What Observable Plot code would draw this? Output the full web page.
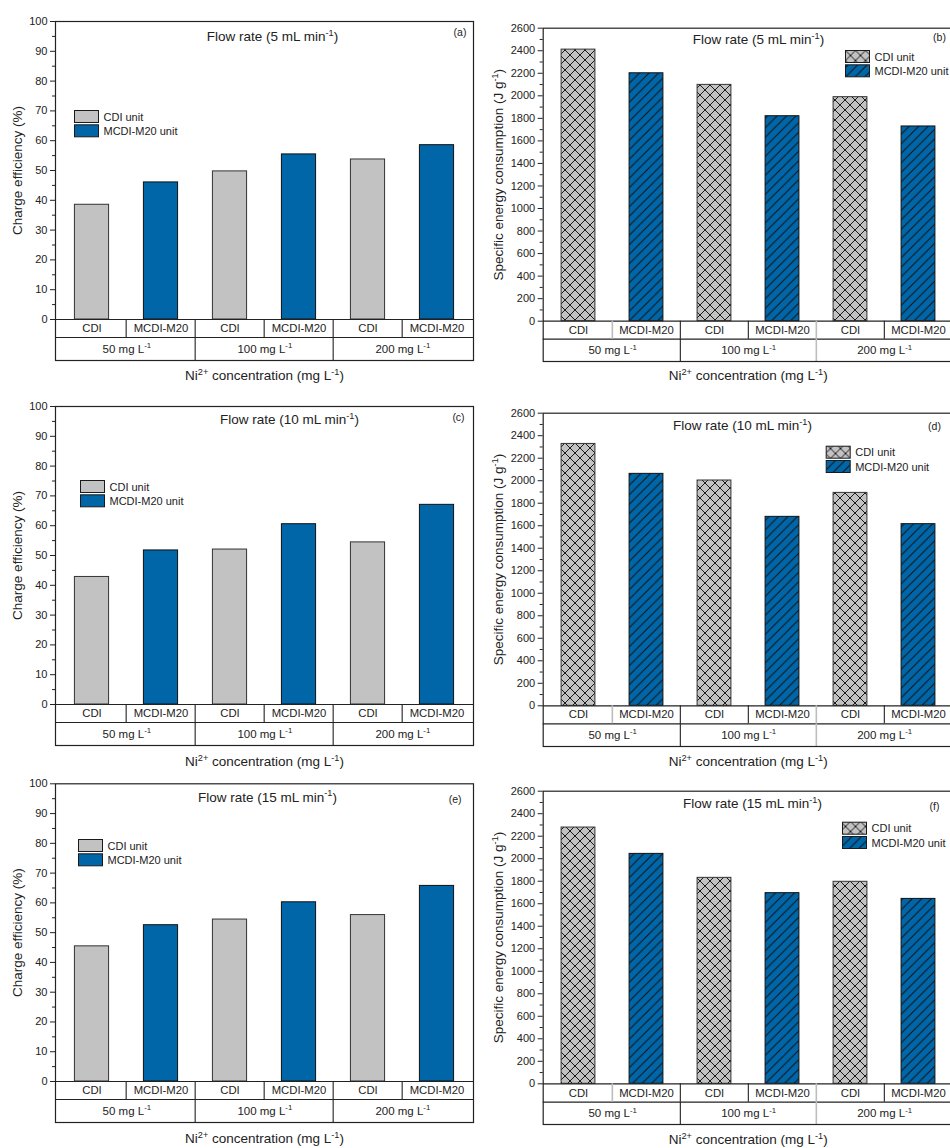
<!DOCTYPE html>
<html><head><meta charset="utf-8">
<script src="https://cdn.jsdelivr.net/npm/d3@7"></script>
<script src="https://cdn.jsdelivr.net/npm/@observablehq/plot@0.6"></script>
<style>
html,body{margin:0;padding:0;background:#fff;overflow:hidden;width:950px;height:1148px;}
#root{position:relative;width:950px;height:1148px;overflow:hidden;}
.panel{position:absolute;}
</style></head><body><div id="root"></div>
<script>
// ---------------- data ----------------
const concentrations = ["50 mg L^{-1}", "100 mg L^{-1}", "200 mg L^{-1}"];
const units = ["CDI", "MCDI-M20"];
const legendLabels = ["CDI unit", "MCDI-M20 unit"];
const flowRates = ["5", "10", "15"];
// charge efficiency (%)
const ceCDI_5 = [38.5, 49.7, 53.7];
const ceMCDI_5 = [46.0, 55.4, 58.5];
const ceCDI_10 = [42.8, 52.0, 54.4];
const ceMCDI_10 = [51.7, 60.5, 67.0];
const ceCDI_15 = [45.4, 54.4, 55.9];
const ceMCDI_15 = [52.5, 60.2, 65.7];
// specific energy consumption (J g-1)
const secCDI_5 = [2410, 2097, 1988];
const secMCDI_5 = [2200, 1819, 1728];
const secCDI_10 = [2327, 2002, 1892];
const secMCDI_10 = [2061, 1679, 1614];
const secCDI_15 = [2277, 1830, 1795];
const secMCDI_15 = [2043, 1694, 1643];
// tick values
const ceTicks = [0, 10, 20, 30, 40, 50, 60, 70, 80, 90, 100];
const ceMinor = [5, 15, 25, 35, 45, 55, 65, 75, 85, 95];
const secTicks = [0, 200, 400, 600, 800, 1000, 1200, 1400, 1600, 1800, 2000, 2200, 2400, 2600];
const secMinor = [100, 300, 500, 700, 900, 1100, 1300, 1500, 1700, 1900, 2100, 2300, 2500];
const ceLabel = "Charge efficiency (%)";
const secLabel = "Specific energy consumption (J g^{-1})";
const xLabel = "Ni^{2+} concentration (mg L^{-1})";

const ceSeries = [[ceCDI_5, ceMCDI_5], [ceCDI_10, ceMCDI_10], [ceCDI_15, ceMCDI_15]];
const secSeries = [[secCDI_5, secMCDI_5], [secCDI_10, secMCDI_10], [secCDI_15, secMCDI_15]];

// ---------------- layout ----------------
const FONT = "'Liberation Sans', Arial, Helvetica, sans-serif";
const GRAY = "#c2c2c2", BLUE = "#0066a8", INK = "#222";
const cols = [
  {svgLeft: 0, svgWidth: 475, fL: 55, fR: 473, yLabelX: 17},
  {svgLeft: 475, svgWidth: 480, fL: 542.7, fR: 952.7, yLabelX: 498}
];
const rowTops = [0, 383, 766];
const SVG_H = 382;
const layout = [
  {letter: "a", kind: "ce", flow: 0, col: 0, row: 0, fT: 21, f0: 319, f1: 337, f2: 360, title: [272, 36], tag: [459.5, 32], legend: [74, 110], xTitleY: 375},
  {letter: "b", kind: "sec", flow: 0, col: 1, row: 0, fT: 27.7, f0: 320.7, f1: 338.7, f2: 361, title: [758, 39.3], tag: [939, 37.3], legend: [845, 50], xTitleY: 375},
  {letter: "c", kind: "ce", flow: 1, col: 0, row: 1, fT: 406, f0: 704, f1: 722, f2: 745, title: [289, 419.3], tag: [458, 416.7], legend: [80, 480], xTitleY: 761},
  {letter: "d", kind: "sec", flow: 1, col: 1, row: 1, fT: 412.7, f0: 705.3, f1: 723.3, f2: 746, title: [742, 425], tag: [934, 425.7], legend: [825.7, 445.7], xTitleY: 761},
  {letter: "e", kind: "ce", flow: 2, col: 0, row: 2, fT: 783.3, f0: 1081, f1: 1099, f2: 1122, title: [267, 796.7], tag: [454.7, 799], legend: [78, 839], xTitleY: 1138},
  {letter: "f", kind: "sec", flow: 2, col: 1, row: 2, fT: 790.7, f0: 1083.3, f1: 1101.7, f2: 1124, title: [752, 803.3], tag: [934, 805.7], legend: [842, 821.7], xTitleY: 1139}
];

function addDefs(svg, letter) {
  const ns = "http://www.w3.org/2000/svg";
  const defs = document.createElementNS(ns, "defs");
  const s = 10, h = 9.5;
  defs.innerHTML =
    `<pattern id="xh-${letter}" patternUnits="userSpaceOnUse" width="${s}" height="${s}">
       <rect width="${s}" height="${s}" fill="${GRAY}"/>
       <path d="M0,0L${s},${s}M${s},0L0,${s}" stroke="#111" stroke-width="0.95" fill="none"/>
     </pattern>
     <pattern id="dg-${letter}" patternUnits="userSpaceOnUse" width="${h}" height="${h}">
       <rect width="${h}" height="${h}" fill="${BLUE}"/>
       <path d="M0,${h}L${h},0M-2,2L2,-2M${h - 2},${h + 2}L${h + 2},${h - 2}" stroke="#111" stroke-width="1" fill="none"/>
     </pattern>`;
  svg.insertBefore(defs, svg.firstChild);
}

function superscripts(root) {
  const ns = "http://www.w3.org/2000/svg";
  root.querySelectorAll("text").forEach(t => {
    const s = t.textContent;
    if (!s.includes("^{")) return;
    const fs = parseFloat(getComputedStyle(t).fontSize) || 12;
    const parts = s.split(/\^\{([^}]*)\}/);
    t.textContent = "";
    let shifted = false;
    parts.forEach((p, i) => {
      if (p === "" && i % 2 === 0) return;
      const ts = document.createElementNS(ns, "tspan");
      ts.textContent = p;
      if (i % 2 === 1) {
        ts.setAttribute("font-size", (fs * 0.68).toFixed(2));
        ts.setAttribute("dy", (-fs * 0.38).toFixed(2));
        shifted = true;
      } else if (shifted) {
        ts.setAttribute("dy", (fs * 0.38).toFixed(2));
        shifted = false;
      }
      t.appendChild(ts);
    });
  });
}

const root = document.getElementById("root");

layout.forEach(L => {
  const C = cols[L.col];
  const svgTop = rowTops[L.row];
  const isCE = L.kind === "ce";
  const yMax = isCE ? 100 : 2600;
  const series = (isCE ? ceSeries : secSeries)[L.flow];
  const k = (L.f0 - L.fT) / yMax;
  const r1 = -(L.f1 - L.f0) / k, r2 = -(L.f2 - L.f0) / k;
  const fL = C.fL, fR = C.fR, fT = L.fT;
  const bw = (fR - fL) / 6;

  const slots = [], rows = [], groups = [];
  concentrations.forEach((c, gi) => {
    groups.push({label: c, slot: c + "|" + units[0]});
    units.forEach((u, ui) => {
      const slot = c + "|" + u;
      slots.push(slot);
      rows.push({slot, unit: u, value: series[ui][gi], ui, gi});
    });
  });

  const fills = isCE ? [GRAY, BLUE] : [`url(#xh-${L.letter})`, `url(#dg-${L.letter})`];
  const barStroke = ["#333", "#111"];

  const row1Div = slots.slice(1).map((s, i) => ({slot: s, idx: i + 1}));
  const row2Div = [slots[2], slots[4]].map((s, i) => ({slot: s, idx: (i + 1) * 2}));
  const greyRow1 = isCE ? [] : [1, 4];
  const greyRow2 = isCE ? [] : [4];

  const legendMarks = [];
  legendLabels.forEach((lab, i) => {
    const lx = L.legend[0], ly = L.legend[1] + i * 14.3;
    legendMarks.push(Plot.frame({
      fill: fills[i], stroke: "#1a1a1a", strokeWidth: 1,
      insetLeft: lx - fL, insetRight: fR - (lx + 24),
      insetTop: ly - fT, insetBottom: L.f2 - (ly + 12)
    }));
    legendMarks.push(Plot.text([lab], {
      text: d => d, frameAnchor: "top-left", dx: lx + 29 - fL, dy: ly + 6.5 - fT,
      textAnchor: "start", lineAnchor: "middle", fontSize: 11, fill: INK
    }));
  });

  const plot = Plot.plot({
    width: C.svgWidth,
    height: SVG_H,
    marginLeft: fL - C.svgLeft,
    marginRight: C.svgLeft + C.svgWidth - fR,
    marginTop: fT - svgTop,
    marginBottom: svgTop + SVG_H - L.f2,
    style: {fontFamily: FONT, fontSize: "11px", color: INK, background: "transparent", overflow: "visible", maxWidth: "none"},
    x: {type: "band", domain: slots, padding: 0, axis: null},
    y: {domain: [r2, yMax], axis: null},
    marks: [
      Plot.barY(rows.filter(d => d.ui === 0), {x: "slot", y: "value", fill: fills[0], stroke: barStroke[0], strokeWidth: 1, insetLeft: bw * 0.25, insetRight: bw * 0.25}),
      Plot.barY(rows.filter(d => d.ui === 1), {x: "slot", y: "value", fill: fills[1], stroke: barStroke[1], strokeWidth: 1, insetLeft: bw * 0.25, insetRight: bw * 0.25}),
      Plot.ruleY([0, r1], {stroke: INK, strokeWidth: 1.2}),
      Plot.ruleX(row1Div.filter(d => !greyRow1.includes(d.idx)), {x: "slot", y1: () => 0, y2: () => r1, dx: -bw / 2, stroke: INK, strokeWidth: 1.1}),
      Plot.ruleX(row1Div.filter(d => greyRow1.includes(d.idx)), {x: "slot", y1: () => 0, y2: () => r1, dx: -bw / 2, stroke: "#bdbdbd", strokeWidth: 1.6}),
      Plot.ruleX(row2Div.filter(d => !greyRow2.includes(d.idx)), {x: "slot", y1: () => r1, y2: () => r2, dx: -bw / 2, stroke: INK, strokeWidth: 1.1}),
      Plot.ruleX(row2Div.filter(d => greyRow2.includes(d.idx)), {x: "slot", y1: () => r1, y2: () => r2, dx: -bw / 2, stroke: "#bdbdbd", strokeWidth: 1.6}),
      Plot.frame({stroke: INK, strokeWidth: 1.2}),
      Plot.text(rows, {x: "slot", y: () => r1 / 2, text: "unit", fontSize: 11.3, fill: INK, lineAnchor: "middle"}),
      Plot.text(groups, {x: "slot", y: () => (r1 + r2) / 2, text: "label", dx: bw / 2, fontSize: 11.5, fill: INK, lineAnchor: "middle"}),
      Plot.axisY(isCE ? ceTicks : secTicks, {anchor: "left", tickSize: 5, tickPadding: 3, tickFormat: d => String(d), label: null, fontSize: 11, stroke: INK, fill: INK}),
      Plot.axisY(isCE ? ceMinor : secMinor, {anchor: "left", tickSize: 3, tickFormat: () => "", label: null, stroke: INK}),
      Plot.text([isCE ? ceLabel : secLabel], {text: d => d, frameAnchor: "top-left", dx: C.yLabelX - fL, dy: (fT + L.f0) / 2 - fT, rotate: -90, textAnchor: "middle", lineAnchor: "middle", fontSize: 13.5, fill: INK}),
      Plot.text([xLabel], {text: d => d, frameAnchor: "top-left", dx: (fR - fL) / 2, dy: L.xTitleY - fT, textAnchor: "middle", lineAnchor: "middle", fontSize: 13.5, fill: INK}),
      Plot.text([`Flow rate (${flowRates[L.flow]} mL min^{-1})`], {text: d => d, frameAnchor: "top-left", dx: L.title[0] - fL, dy: L.title[1] - fT, textAnchor: "middle", lineAnchor: "middle", fontSize: 13.5, fill: INK}),
      Plot.text([`(${L.letter})`], {text: d => d, frameAnchor: "top-left", dx: L.tag[0] - fL, dy: L.tag[1] - fT, textAnchor: "middle", lineAnchor: "middle", fontSize: 10.5, fill: INK}),
      ...legendMarks
    ]
  });
  addDefs(plot, L.letter);
  const div = document.createElement("div");
  div.className = "panel";
  div.style.left = C.svgLeft + "px";
  div.style.top = svgTop + "px";
  div.style.width = C.svgWidth + "px";
  div.style.height = SVG_H + "px";
  div.appendChild(plot);
  root.appendChild(div);
});
superscripts(root);
</script>
</body></html>
